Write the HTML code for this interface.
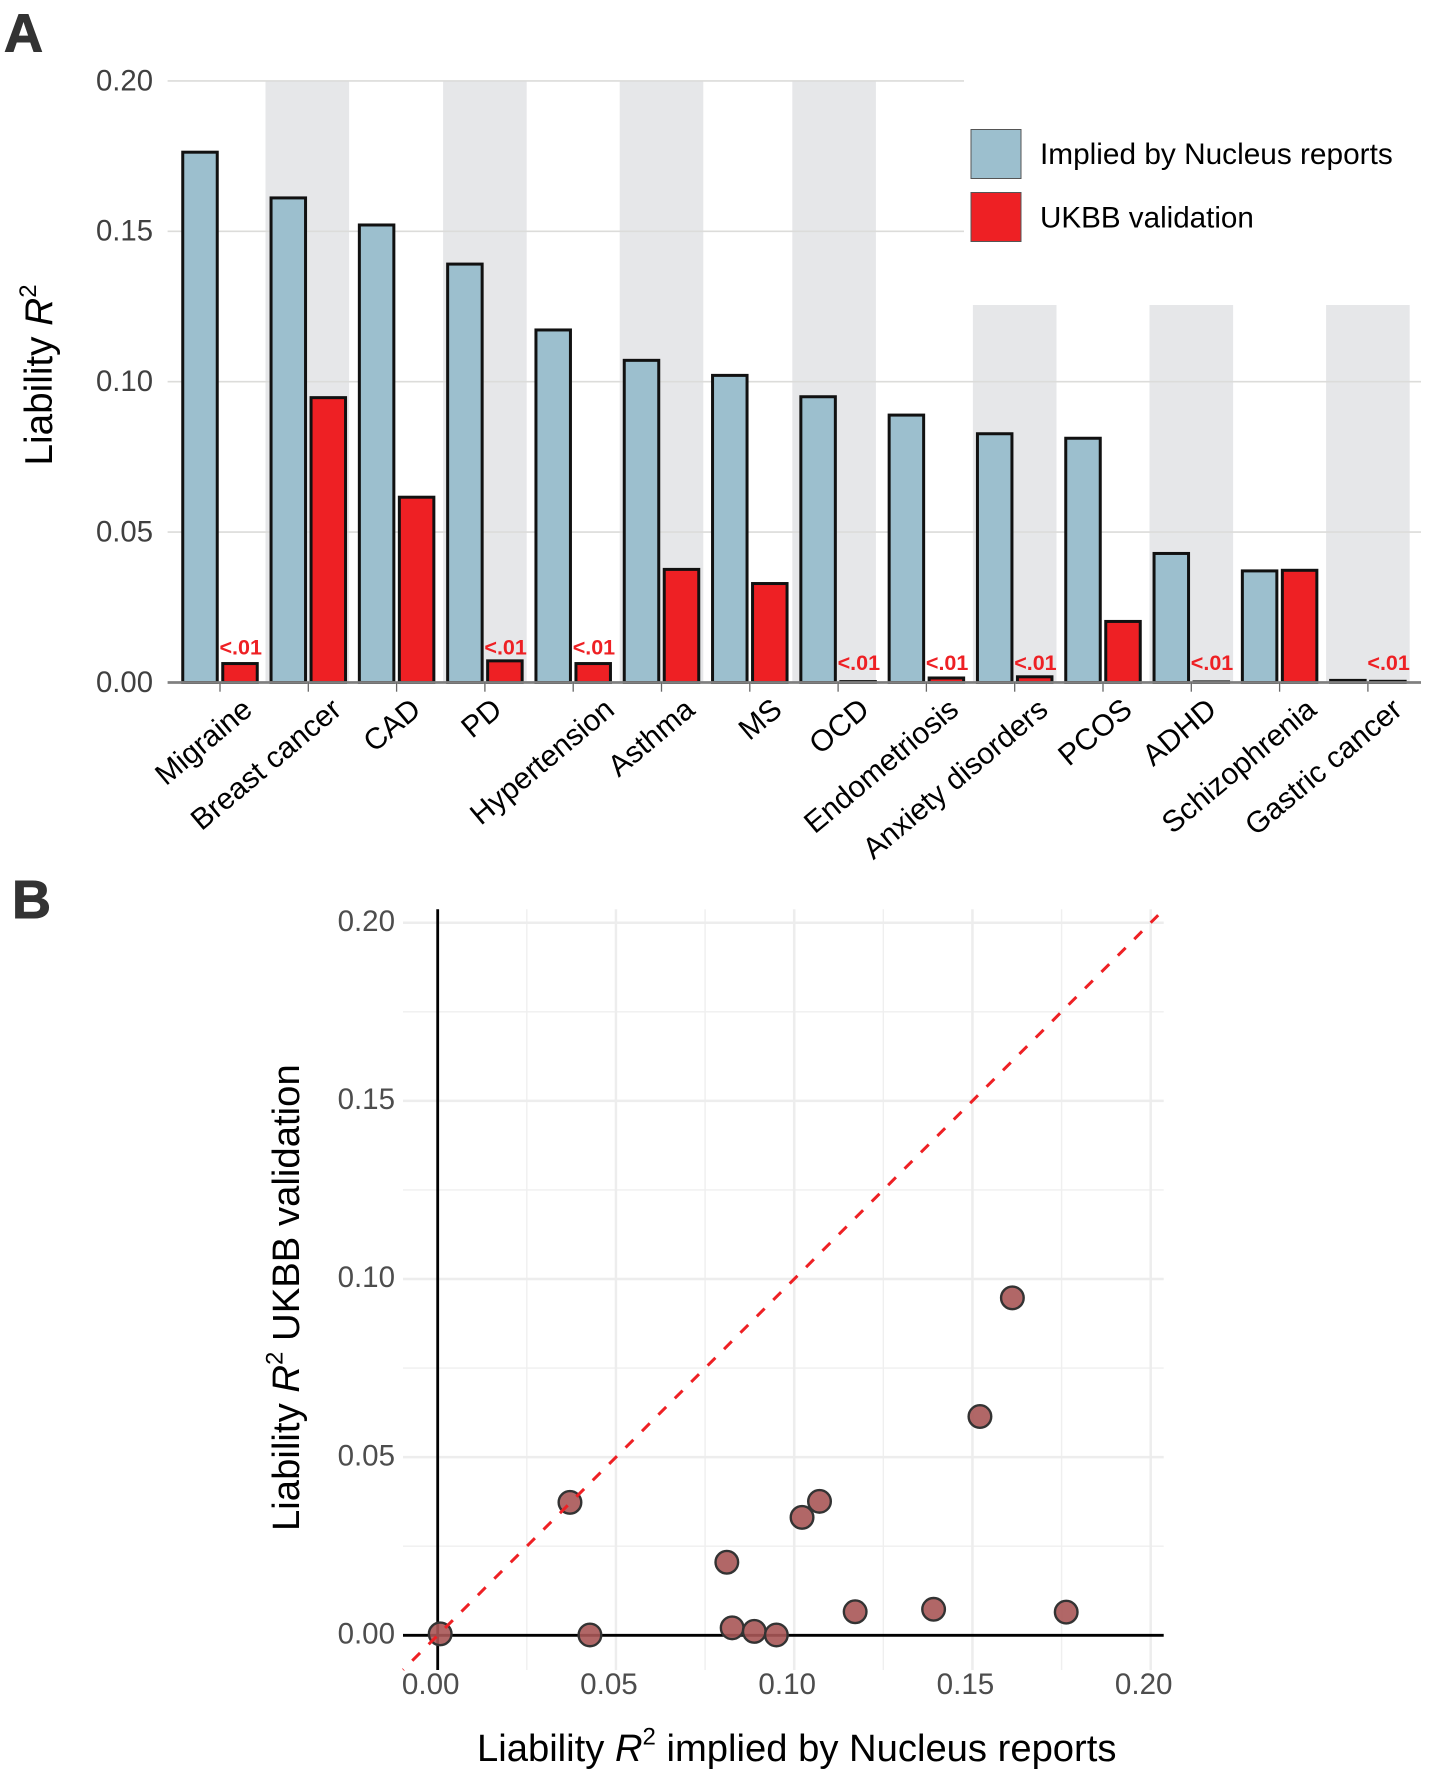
<!DOCTYPE html>
<html lang="en">
<head>
<meta charset="utf-8">
<title>Liability R2 comparison</title>
<style>
html,body{margin:0;padding:0;background:#fff;width:1442px;height:1774px;overflow:hidden}
svg{display:block;font-family:"Liberation Sans",Arial,sans-serif}
</style>
</head>
<body>
<svg id="fig" xmlns="http://www.w3.org/2000/svg" width="1442" height="1774" viewBox="0 0 1442 1774">
  <rect width="1442" height="1774" fill="#fff"/>
  <g id="panelA"></g>
  <g id="panelB"></g>

  <text x="4" y="51.5" font-size="54" font-weight="bold" fill="#333" stroke="#333" stroke-width="1">A</text>
  <text x="12" y="918" font-size="54" font-weight="bold" fill="#333" stroke="#333" stroke-width="1">B</text>

  <text transform="translate(52,465.5) rotate(-90)" font-size="38.7" fill="#000">Liability <tspan font-style="italic">R</tspan><tspan font-size="24" dy="-16">2</tspan></text>

  <rect x="971" y="129.5" width="50" height="49" fill="#9cbfce" stroke="#555" stroke-width="1"/>
  <text x="1040" y="164" font-size="29.8" fill="#000">Implied by Nucleus reports</text>
  <rect x="971" y="192.5" width="50" height="49" fill="#ee2024" stroke="#555" stroke-width="1"/>
  <text x="1040" y="227.5" font-size="29.6" fill="#000">UKBB validation</text>

  <text x="477" y="1761" font-size="38.2" fill="#000">Liability <tspan font-style="italic">R</tspan><tspan font-size="24" dy="-16.5">2</tspan><tspan dy="16.5"> implied by Nucleus reports</tspan></text>
  <text transform="translate(299,1531) rotate(-90)" font-size="38.3" fill="#000">Liability <tspan font-style="italic">R</tspan><tspan font-size="24" dy="-16.5">2</tspan><tspan dy="16.5"> UKBB validation</tspan></text>
</svg>
<script>
// Panel A data
const diseases = ["Migraine","Breast cancer","CAD","PD","Hypertension","Asthma","MS","OCD","Endometriosis","Anxiety disorders","PCOS","ADHD","Schizophrenia","Gastric cancer"];
const impliedValues = [0.1763,0.1611,0.1521,0.1391,0.1172,0.1071,0.1021,0.0950,0.0889,0.0827,0.0812,0.0429,0.0371,0.0007];
const ukbbValues = [0.0063,0.0947,0.0616,0.0072,0.0063,0.0376,0.0329,0.0003,0.0015,0.0019,0.0203,0.0002,0.0373,0.0004];
const lowValueLabels = ["<.01","","","<.01","<.01","","","<.01","<.01","<.01","","<.01","","<.01"];
const yTicksA = [0,0.05,0.10,0.15,0.20];
const yTickLabelsA = ["0.00","0.05","0.10","0.15","0.20"];

// Panel B data
const scatterImplied = [0.0007,0.0427,0.0371,0.0811,0.0826,0.0888,0.0950,0.1022,0.1071,0.1171,0.1391,0.1521,0.1612,0.1763];
const scatterUkbb = [0.0004,0.0001,0.0373,0.0205,0.0021,0.0011,0.0001,0.0331,0.0376,0.0066,0.0073,0.0614,0.0947,0.0065];
const majorTicksB = [0,0.05,0.10,0.15,0.20];
const minorTicksB = [0.025,0.075,0.125,0.175];
const tickLabelsB = ["0.00","0.05","0.10","0.15","0.20"];
const refLine = [-0.0097,0.2021];

const NS = "http://www.w3.org/2000/svg";
function add(parent, tag, attrs, text){
  const el = document.createElementNS(NS, tag);
  for (const k in attrs) el.setAttribute(k, attrs[k]);
  if (text !== undefined) el.textContent = text;
  parent.appendChild(el);
  return el;
}

/* ---------- Panel A ---------- */
const A = document.getElementById("panelA");
const xA = i => 220 + 88.3 * i;
const yA = v => 682.5 - 3008 * v;
const BAR_W = 34.5, BAR_OFF = 20;
// The source figure centres its rotated labels differently depending on label length.
function labelNudge(name){
  const nudges = {"CAD":-8,"PD":-15,"Hypertension":9,"Breast cancer":1,"Asthma":1,"OCD":-1,"Anxiety disorders":1,"PCOS":-3,"ADHD":-7,"Schizophrenia":4.5,"Gastric cancer":2};
  return nudges[name] || 0;
}

diseases.forEach((d, i) => {
  if (i % 2 === 0) return;
  const top = i <= 7 ? yA(0.2) : 305;
  const shift = i === 7 ? -4 : (i === 1 ? -1 : 0);
  const el = add(A, "rect", {x: xA(i) + shift - 41.8, y: top, width: 83.6, height: yA(0) - top, fill: "#e6e7e9"});
  
  
});

yTicksA.forEach((t, i) => {
  if (t > 0) {
    const end = t >= 0.15 ? 964 : 1421;
    const gl = add(A, "line", {x1: 167.6, x2: end, y1: yA(t), y2: yA(t), stroke: "#dcdcda", "stroke-width": 1.6});
    
    
  }
  const lb = add(A, "text", {x: 153, y: yA(t) + 9.4, "text-anchor": "end", "font-size": 29.3, fill: "#404040"}, yTickLabelsA[i]);
  
  
});

diseases.forEach((d, i) => {
  const b1 = add(A, "rect", {x: xA(i) - BAR_OFF - BAR_W / 2, y: yA(impliedValues[i]), width: BAR_W, height: yA(0) - yA(impliedValues[i]), fill: "#9cbfce", stroke: "#111", "stroke-width": 3});
  
  
  const b2 = add(A, "rect", {x: xA(i) + BAR_OFF - BAR_W / 2, y: yA(ukbbValues[i]), width: BAR_W, height: yA(0) - yA(ukbbValues[i]), fill: "#ee2024", stroke: "#111", "stroke-width": 3});
  
  
  if (lowValueLabels[i]) {
    const base = ukbbValues[i] > 0.005 ? yA(0.0093) : yA(0.0042);
    const v = add(A, "text", {x: xA(i) - 0.5, y: base, "font-size": 21.5, "font-weight": "bold", fill: "#ee2024"}, lowValueLabels[i]);
    
    
  }
});

const axA = add(A, "line", {x1: 167.6, x2: 1421, y1: yA(0), y2: yA(0), stroke: "#808080", "stroke-width": 2.8});



diseases.forEach((d, i) => {
  const tk = add(A, "line", {x1: xA(i), x2: xA(i), y1: yA(0), y2: 691.7, stroke: "#666", "stroke-width": 1.3});
  
  
  const lb = add(A, "text", {transform: "translate(" + (xA(i) + 34 + labelNudge(d)) + ",712.5) rotate(-40)", "text-anchor": "end", "font-size": 30, fill: "#000"}, d);
  
  
});

/* ---------- Panel B ---------- */
const B = document.getElementById("panelB");
const xB = v => 437.7 + 3565 * v;
const yB = v => 1635.3 - 3563 * v;
const L = 403, R = 1163.7, T = 909.3, Bt = 1670;

minorTicksB.forEach(t => {
  const h = add(B, "line", {x1: L, x2: R, y1: yB(t), y2: yB(t), stroke: "#efefef", "stroke-width": 1.4});
  
  
  const v = add(B, "line", {x1: xB(t), x2: xB(t), y1: T, y2: Bt, stroke: "#efefef", "stroke-width": 1.4});
  
  
});
majorTicksB.forEach((t, i) => {
  const h = add(B, "line", {x1: L, x2: R, y1: yB(t), y2: yB(t), stroke: "#ededed", "stroke-width": 2.5});
  
  
  const v = add(B, "line", {x1: xB(t), x2: xB(t), y1: T, y2: Bt, stroke: "#ededed", "stroke-width": 2.5});
  
  
  const yl = add(B, "text", {x: 395, y: yB(t) + 8.2, "text-anchor": "end", "font-size": 29.5, fill: "#4d4d4d"}, tickLabelsB[i]);
  
  
  const xl = add(B, "text", {x: xB(t) - 7, y: 1694, "text-anchor": "middle", "font-size": 29.6, fill: "#4d4d4d"}, tickLabelsB[i]);
  
  
});

const axH = add(B, "line", {x1: L, x2: R, y1: yB(0), y2: yB(0), stroke: "#000", "stroke-width": 2.8});


const axV = add(B, "line", {x1: xB(0), x2: xB(0), y1: T, y2: Bt, stroke: "#000", "stroke-width": 2.8});



scatterImplied.forEach((x, i) => {
  const c = add(B, "circle", {cx: xB(x), cy: yB(scatterUkbb[i]), r: 11.3, fill: "#a85657", "fill-opacity": 0.9, stroke: "#333", "stroke-width": 2.4});
  
  
});

const ref = add(B, "line", {x1: xB(refLine[0]), y1: yB(refLine[0]), x2: xB(refLine[1]), y2: yB(refLine[1]), stroke: "#ee2024", "stroke-width": 3, "stroke-dasharray": "11 12.2", "stroke-dashoffset": 10.3});


</script>
</body>
</html>
